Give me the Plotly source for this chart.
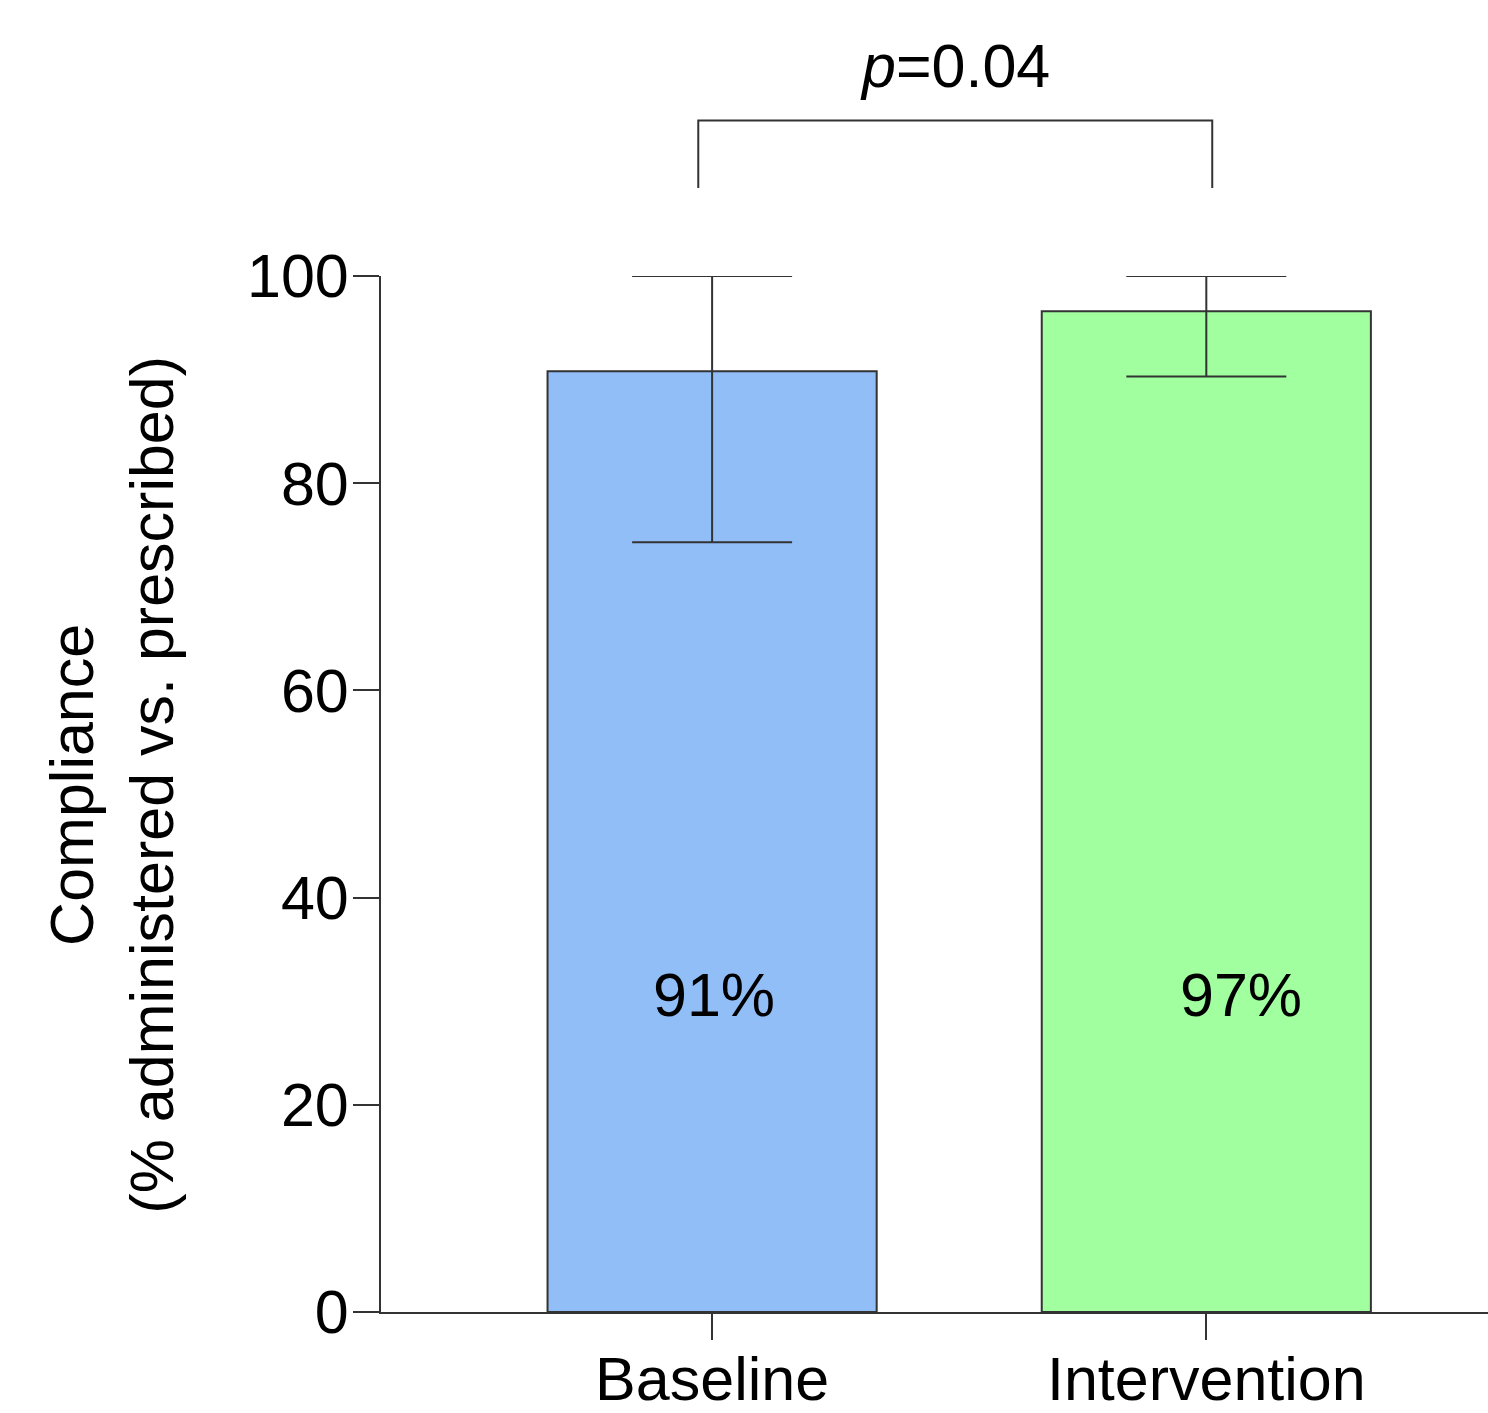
import plotly.graph_objects as go

categories = ["Baseline", "Intervention"]
means = [90.8, 96.6]
upper = [100.0, 100.0]
lower = [74.3, 90.3]
labels = ["91%", "97%"]
label_x = [0.004, 1.071]
label_y = [30.6, 30.6]
colors = ["#92BEF8", "#A1FFA0"]
y_ticks = [0, 20, 40, 60, 80, 100]
p_text = "<i>p</i>=0.04"
bracket_x = [-0.028, 1.012]
bracket_top = 115.0
bracket_bottom = 108.5
p_y = 120.3

FONT = "Liberation Sans, Arial, sans-serif"
FS = 61
LINE = "#333333"
YMAX = 100.0

fig = go.Figure()
for i, cat in enumerate(categories):
    fig.add_trace(go.Bar(
        x=[cat], y=[means[i]], width=0.666,
        marker=dict(color=colors[i], line=dict(color=LINE, width=2)),
        error_y=dict(type="data", symmetric=False,
                     array=[upper[i] - means[i]],
                     arrayminus=[means[i] - lower[i]],
                     color=LINE, thickness=2, width=80),
        cliponaxis=False, showlegend=False, hoverinfo="skip",
    ))

for i in range(len(categories)):
    fig.add_annotation(x=label_x[i], y=label_y[i], xref="x", yref="y",
                       text=labels[i], showarrow=False,
                       font=dict(family=FONT, size=FS, color="black"),
                       xanchor="center", yanchor="middle")

# significance bracket
fig.add_shape(type="path", xref="x", yref="paper",
              path=(f"M {bracket_x[0]},{bracket_bottom / YMAX} "
                    f"L {bracket_x[0]},{bracket_top / YMAX} "
                    f"L {bracket_x[1]},{bracket_top / YMAX} "
                    f"L {bracket_x[1]},{bracket_bottom / YMAX}"),
              line=dict(color=LINE, width=2))
fig.add_annotation(x=(bracket_x[0] + bracket_x[1]) / 2, y=p_y / YMAX,
                   xref="x", yref="paper", text=p_text, showarrow=False,
                   font=dict(family=FONT, size=FS, color="black"),
                   xanchor="center", yanchor="middle")

# y axis title
fig.add_annotation(x=-0.243, y=0.509, xref="paper", yref="paper",
                   text="Compliance<br>(% administered vs. prescribed)",
                   textangle=-90, showarrow=False,
                   font=dict(family=FONT, size=FS, color="black"),
                   xanchor="center", yanchor="middle")

fig.update_layout(
    width=1488, height=1413,
    margin=dict(l=381, r=0, t=276, b=101, autoexpand=False),
    plot_bgcolor="white", paper_bgcolor="white",
    font=dict(family=FONT, size=FS, color="black"),
    xaxis=dict(range=[-0.67, 1.57], showline=True, linecolor=LINE, linewidth=2,
               ticks="outside", ticklen=26, tickwidth=2, tickcolor=LINE,
               showgrid=False, zeroline=False, automargin=False,
               ticklabelstandoff=-13,
               tickfont=dict(family=FONT, size=FS, color="black")),
    yaxis=dict(range=[0, YMAX], tickvals=y_ticks, showline=True, linecolor=LINE,
               linewidth=2, ticks="outside", ticklen=26, tickwidth=2,
               tickcolor=LINE, showgrid=False, zeroline=False, automargin=False,
               ticklabelstandoff=-8,
               tickfont=dict(family=FONT, size=FS, color="black")),
    bargap=0.33,
)

fig.write_html(
    "out.html",
    config={"displayModeBar": False},
    post_script="document.body.style.margin='0';document.body.style.overflow='hidden';",
)
